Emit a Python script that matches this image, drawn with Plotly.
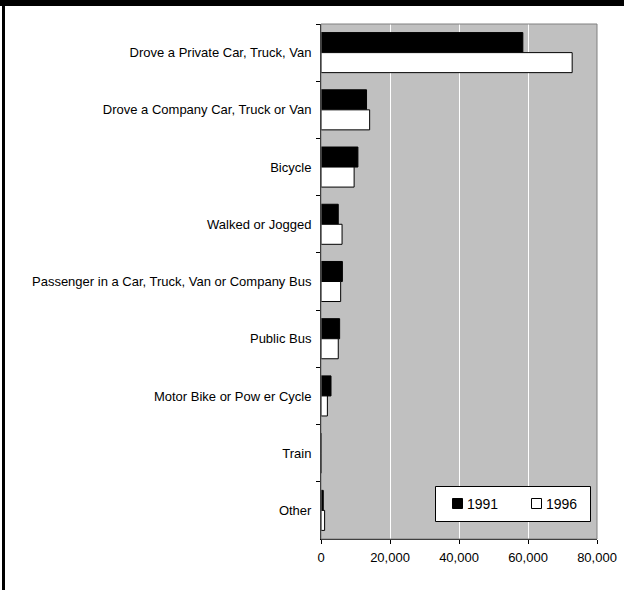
import plotly.graph_objects as go

categories = [
    "Drove a Private Car, Truck, Van",
    "Drove a Company Car, Truck or Van",
    "Bicycle",
    "Walked or Jogged",
    "Passenger in a Car, Truck, Van or Company Bus",
    "Public Bus",
    "Motor Bike or Pow er Cycle",
    "Train",
    "Other",
]
series_names = ["1991", "1996"]
values_1991 = [58500, 13200, 10700, 5000, 6200, 5400, 2900, 0, 650]
values_1996 = [72800, 14100, 9600, 6100, 5700, 5000, 1850, 0, 1050]
x_ticks = [0, 20000, 40000, 60000, 80000]

W, H = 624, 590
L, R, T, B = 321, 597, 24, 539
FONT = "Arial, Liberation Sans, sans-serif"

fig = go.Figure()
fig.add_trace(go.Bar(
    y=categories, x=values_1991, name=series_names[0], orientation="h",
    marker=dict(color="black", line=dict(color="black", width=1)),
    showlegend=False,
))
fig.add_trace(go.Bar(
    y=categories, x=values_1996, name=series_names[1], orientation="h",
    marker=dict(color="white", line=dict(color="black", width=1)),
    showlegend=False,
))

def px_x(p):
    return (p - L) / (R - L)

def px_y(p):
    return (B - p) / (B - T)

shapes = [
    # gray plot frame
    dict(type="rect", xref="paper", yref="paper", x0=0, x1=1, y0=0, y1=1,
         line=dict(color="#808080", width=1), fillcolor="rgba(0,0,0,0)", layer="above"),
    # page border: top and left black bars
    dict(type="rect", xref="paper", yref="paper", x0=px_x(0), x1=px_x(W), y0=px_y(0), y1=px_y(6),
         line=dict(width=0), fillcolor="black", layer="above"),
    dict(type="rect", xref="paper", yref="paper", x0=px_x(2), x1=px_x(5), y0=px_y(0), y1=px_y(H),
         line=dict(width=0), fillcolor="black", layer="above"),
    # legend box
    dict(type="rect", xref="paper", yref="paper", x0=px_x(435.5), x1=px_x(590.5),
         y0=px_y(521.5), y1=px_y(486.5),
         line=dict(color="black", width=1), fillcolor="white", layer="above"),
    # legend swatches
    dict(type="rect", xref="paper", yref="paper", x0=px_x(452.5), x1=px_x(462.5),
         y0=px_y(508.5), y1=px_y(498.5),
         line=dict(color="black", width=1), fillcolor="black", layer="above"),
    dict(type="rect", xref="paper", yref="paper", x0=px_x(531.5), x1=px_x(541.5),
         y0=px_y(508.5), y1=px_y(498.5),
         line=dict(color="black", width=1), fillcolor="white", layer="above"),
]

annotations = [
    dict(text=series_names[0], xref="paper", yref="paper", x=px_x(465), y=px_y(504),
         xanchor="left", yanchor="middle", showarrow=False, font=dict(size=14)),
    dict(text=series_names[1], xref="paper", yref="paper", x=px_x(543.5), y=px_y(504),
         xanchor="left", yanchor="middle", showarrow=False, font=dict(size=14)),
]

fig.update_layout(
    width=W, height=H,
    margin=dict(l=L, r=W - R, t=T, b=H - B, pad=0, autoexpand=False),
    paper_bgcolor="white", plot_bgcolor="#C0C0C0",
    barmode="group", bargap=0.3, bargroupgap=0,
    font=dict(family=FONT, size=13, color="black"),
    showlegend=False,
    shapes=shapes,
    annotations=annotations,
    xaxis=dict(
        range=[0, 80000], tickvals=x_ticks, tickformat=",",
        showgrid=True, gridcolor="white", gridwidth=1,
        showline=True, linecolor="black", linewidth=1,
        ticks="outside", ticklen=4, tickcolor="black",
        zeroline=False, tickfont=dict(size=13), automargin=False,
        ticklabelstandoff=2,
    ),
    yaxis=dict(
        autorange="reversed", type="category",
        showgrid=False, showline=True, linecolor="black", linewidth=1,
        ticks="outside", ticklen=4, tickcolor="black", tickson="boundaries",
        tickfont=dict(size=13), ticklabelstandoff=6, automargin=False,
    ),
)

fig.write_html("out.html")
